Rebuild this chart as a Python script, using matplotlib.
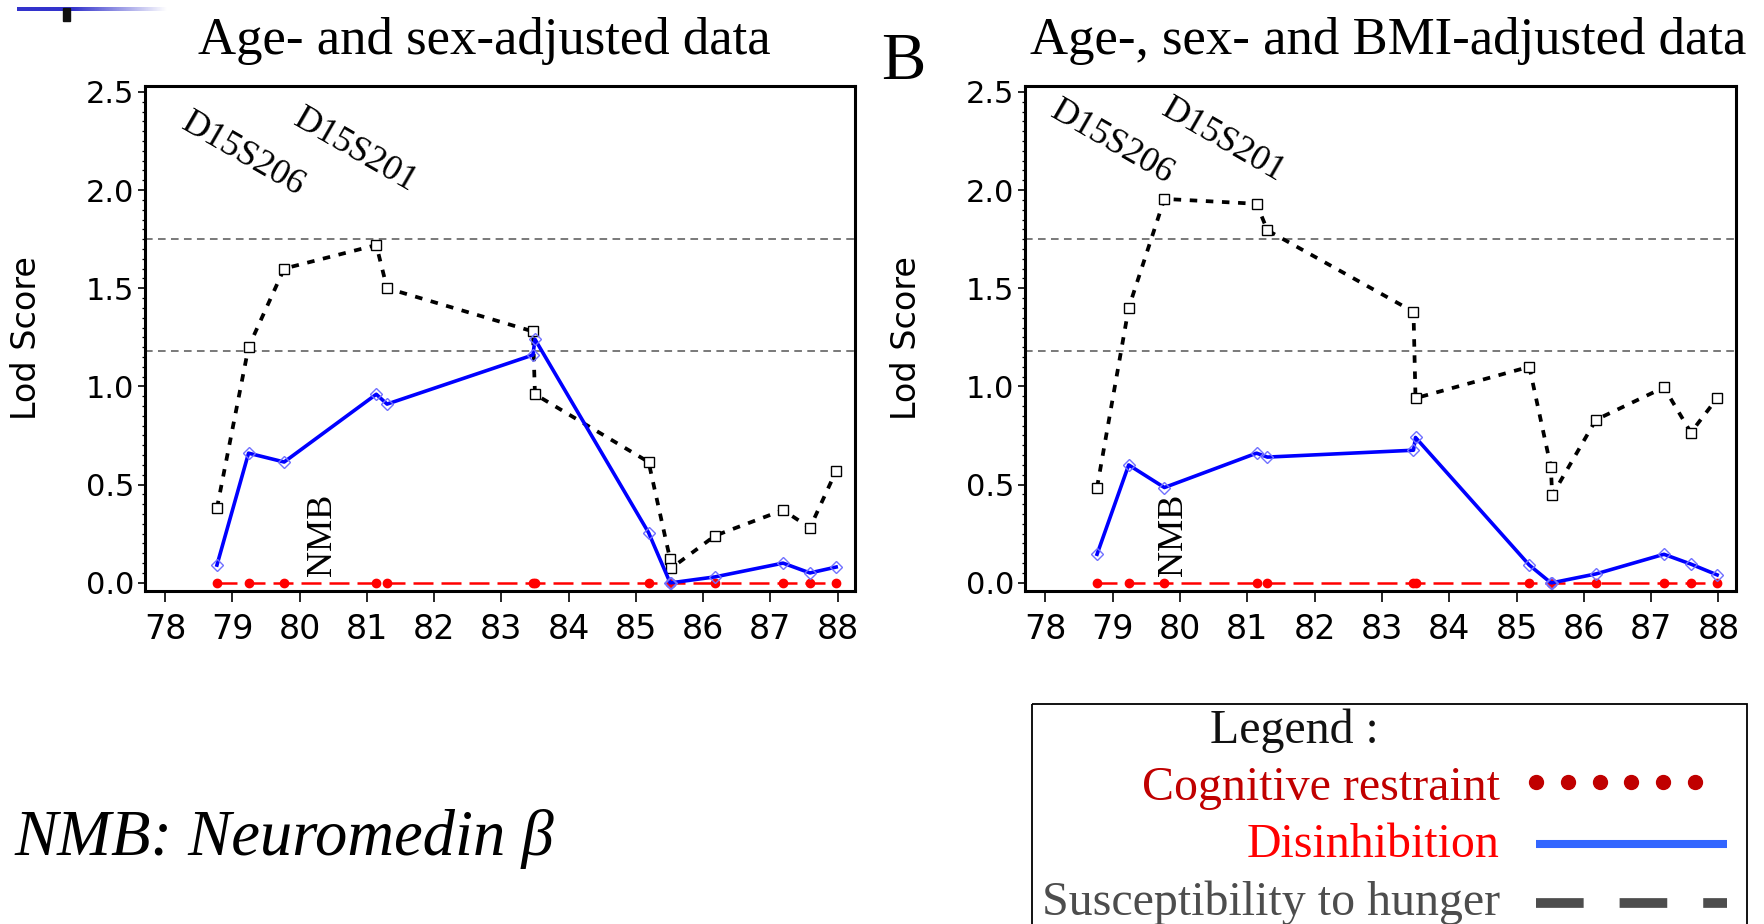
import numpy as np
import matplotlib.pyplot as plt
from matplotlib.ticker import MultipleLocator
from matplotlib.patches import Rectangle

# marker positions (cM), shared by all three traits
pos = [78.77, 79.24, 79.77, 81.14, 81.30, 83.47, 83.50, 85.19, 85.51, 85.53, 86.18, 87.19, 87.59, 87.98]

# panel A: age- and sex-adjusted
hunger_a = [0.38, 1.20, 1.60, 1.72, 1.50, 1.28, 0.96, 0.615, 0.12, 0.075, 0.24, 0.37, 0.28, 0.57]
disinh_a = [0.09, 0.66, 0.615, 0.96, 0.91, 1.16, 1.24, 0.255, 0.0, 0.0, 0.03, 0.10, 0.05, 0.08]
restr_a = [0.0, 0.0, 0.0, 0.0, 0.0, 0.0, 0.0, 0.0, 0.0, 0.0, 0.0, 0.0, 0.0, 0.0]

# panel B: age-, sex- and BMI-adjusted
hunger_b = [0.485, 1.40, 1.955, 1.93, 1.795, 1.38, 0.94, 1.10, 0.59, 0.445, 0.83, 0.995, 0.765, 0.94]
disinh_b = [0.145, 0.60, 0.485, 0.66, 0.64, 0.675, 0.74, 0.09, 0.0, 0.0, 0.045, 0.145, 0.095, 0.04]
restr_b = [0.0, 0.0, 0.0, 0.0, 0.0, 0.0, 0.0, 0.0, 0.0, 0.0, 0.0, 0.0, 0.0, 0.0]

thresholds = [1.18, 1.75]
xticks = [78, 79, 80, 81, 82, 83, 84, 85, 86, 87, 88]
yticks = [0.0, 0.5, 1.0, 1.5, 2.0, 2.5]
ytick_labels = ['0.0', '0.5', '1.0', '1.5', '2.0', '2.5']

titles = ['Age- and sex-adjusted data', 'Age-, sex- and BMI-adjusted data']
marker_labels = ['D15S206', 'D15S201']
# label anchor points (cM, LOD) per panel
marker_label_pos = [[(79.16, 2.18), (80.83, 2.20)], [(78.99, 2.24), (80.65, 2.25)]]
nmb_pos = [(80.34, 0.245), (79.90, 0.245)]

SERIF = 'Liberation Serif'
W, H = 1764, 924


def draw_panel(ax, hunger, disinh, restr, labpos, nmb):
    for t in thresholds:
        ax.axhline(t, color='#555555', lw=1.1, dashes=(5, 3.5), zorder=1)
    ax.plot(pos, restr, color='#ff0000', lw=1.8, dashes=(8, 3.2),
            marker='o', ms=6, mfc='#ff0000', mec='#ff0000', zorder=2)
    ax.plot(pos, hunger, color='black', lw=2.7, dashes=(2.0, 2.3),
            marker='s', ms=6.5, mfc='white', mec='black', mew=1.0, zorder=3)
    ax.plot(pos, disinh, color='#0000ff', lw=2.6,
            marker='D', ms=6.5, mfc='none', mec='#7070ff', mew=1.0, zorder=4)

    for name, (x, y) in zip(marker_labels, labpos):
        ax.text(x, y, name, rotation=-30, rotation_mode='anchor', ha='center', va='center',
                family=SERIF, fontsize=26)
    ax.text(nmb[0], nmb[1], 'NMB', rotation=90, ha='center', va='center',
            family=SERIF, fontsize=26)

    ax.set_xlim(77.70, 88.26)
    ax.set_ylim(-0.042, 2.53)
    ax.set_xticks(xticks)
    ax.set_xticklabels([str(v) for v in xticks])
    ax.set_yticks(yticks)
    ax.set_yticklabels(ytick_labels)
    ax.yaxis.set_minor_locator(MultipleLocator(0.05))
    ax.tick_params(axis='y', which='major', length=5, width=1.2, labelsize=22, pad=3)
    ax.tick_params(axis='y', which='minor', length=2.5, width=0.9)
    ax.tick_params(axis='x', which='major', length=8, width=1.2, labelsize=24, pad=8)
    for s in ax.spines.values():
        s.set_linewidth(2.2)
    ax.set_ylabel('Lod Score', fontsize=24)
    ax.yaxis.set_label_coords(-0.1437, 0.5)


fig = plt.figure(figsize=(W / 100, H / 100), dpi=100)

axA = fig.add_axes([145 / W, 1 - 591 / H, 710 / W, 505 / H])
axB = fig.add_axes([1025 / W, 1 - 591 / H, 711 / W, 505 / H])
draw_panel(axA, hunger_a, disinh_a, restr_a, marker_label_pos[0], nmb_pos[0])
draw_panel(axB, hunger_b, disinh_b, restr_b, marker_label_pos[1], nmb_pos[1])

# overlay in pixel units for titles, legend box and decoration
ov = fig.add_axes([0, 0, 1, 1], zorder=-1)
ov.axis('off')

# slide header bar (fades out to the right)
grad = np.ones((1, 200, 4))
grad[0, :, :3] = [0.2, 0.2, 0.8]
grad[0, :, 3] = np.clip(np.linspace(1.6, -0.05, 200), 0, 1)
ov.imshow(grad, extent=(17, 172, 11, 7), aspect='auto', interpolation='bilinear')
ov.add_patch(Rectangle((63, 8), 7, 13, color='#111111'))

ov.text(484, 54, titles[0], ha='center', va='baseline', family=SERIF, fontsize=38)
ov.text(1388, 54, titles[1], ha='center', va='baseline', family=SERIF, fontsize=38)
ov.text(903, 79, 'B', ha='center', va='baseline', family=SERIF, fontsize=48)

ov.text(14, 855, 'NMB: Neuromedin β', ha='left', va='baseline', family=SERIF,
        style='italic', fontsize=46.5)

# legend box
ov.add_patch(Rectangle((1032, 704), 715, 260, fill=False, ec='black', lw=1.3))
ov.text(1294, 743, 'Legend :', ha='center', va='baseline', family=SERIF, fontsize=34.5,
        color='#111111')
ov.text(1500, 800, 'Cognitive restraint', ha='right', va='baseline', family=SERIF,
        fontsize=34.5, color='#c00000')
ov.text(1500, 857, 'Disinhibition', ha='right', va='baseline', family=SERIF,
        fontsize=34.5, color='#ff0000')
ov.text(1500, 915, 'Susceptibility to hunger', ha='right', va='baseline', family=SERIF,
        fontsize=34.5, color='#4d4d4d')
ov.plot(np.linspace(1536, 1695, 6), np.full(6, 782), 'o', ms=10, color='#c00000')
ov.plot([1536, 1727], [844, 844], color='#3366ff', lw=5.8, solid_capstyle='butt')
ov.plot([1536, 1727], [903, 903], color='#4d4d4d', lw=7, dashes=(4.9, 3.7))

ov.set_xlim(0, W)
ov.set_ylim(H, 0)

fig.savefig('out.png', dpi=100)
